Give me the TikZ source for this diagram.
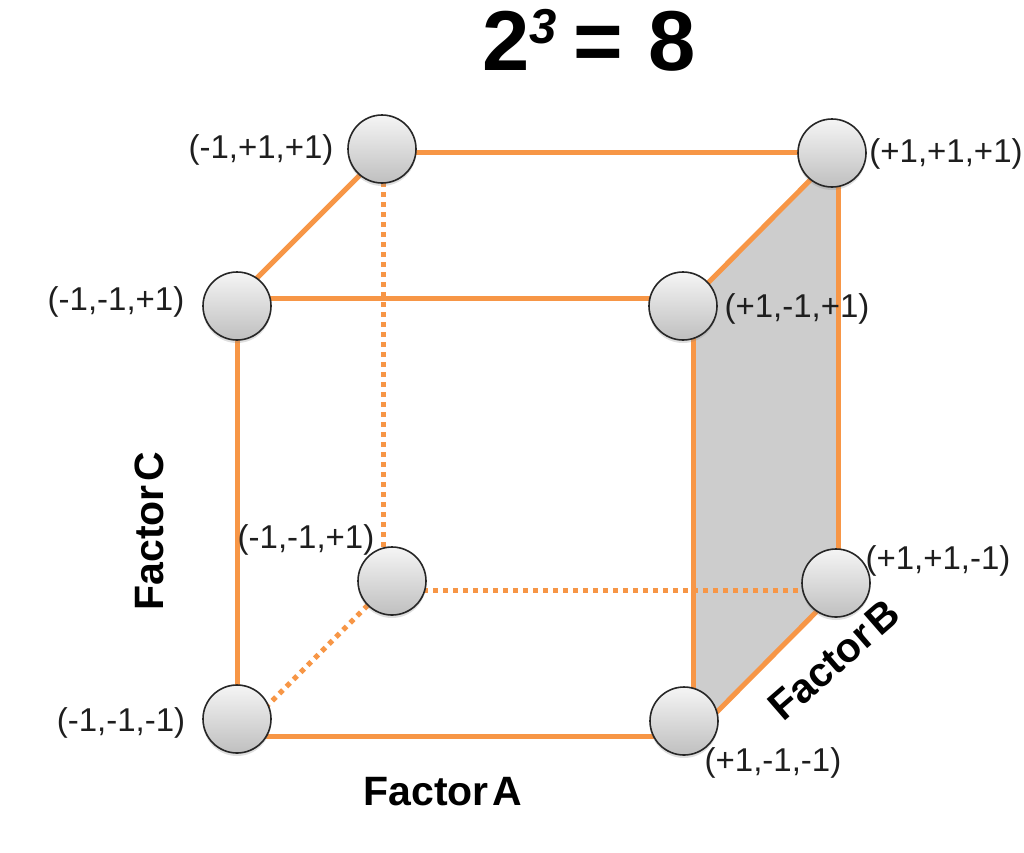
\documentclass[tikz,border=0pt]{standalone}
\usepackage{fontspec}
\setmainfont{Liberation Sans}
\usetikzlibrary{shadows}
\definecolor{edgeor}{RGB}{247,150,70}
\definecolor{facegray}{RGB}{205,205,205}
\definecolor{labtext}{RGB}{30,30,30}
\begin{document}
\begin{tikzpicture}[x=1pt,y=-1pt,
  edge/.style={draw=edgeor,line width=5pt},
  hidden/.style={draw=edgeor,line width=5pt,dash pattern=on 5pt off 5pt},
  corner/.style={circle,minimum size=68pt,inner sep=0pt,draw=black!85,line width=1.6pt,
    top color=black!4,bottom color=black!25,
    drop shadow={opacity=0.25,shadow xshift=0pt,shadow yshift=-3pt}},
  lab/.style={font=\fontsize{33}{36}\selectfont,text=labtext,inner sep=0pt},
  axis/.style={font=\bfseries\fontsize{41}{44}\selectfont,inner sep=0pt}]
\useasboundingbox (0,0) rectangle (1024,852);
% cube corners
\coordinate (fA) at (237,298);
\coordinate (fB) at (693,298);
\coordinate (fC) at (237,736);
\coordinate (fD) at (693,736);
\coordinate (bA) at (383,152);
\coordinate (bB) at (838,152);
\coordinate (bC) at (383,590);
\coordinate (bD) at (838,590);
% shaded face
\fill[facegray] (fB) -- (bB) -- (bD) -- (fD) -- cycle;
% edges
\draw[edge] (bA) -- (bB);
\draw[edge] (fA) -- (bA);
\draw[edge] (fA) -- (fB);
\draw[edge] (fB) -- (bB);
\draw[edge] (fA) -- (fC);
\draw[edge] (fC) -- (fD);
\draw[edge] (fB) -- (fD);
\draw[edge] (bB) -- (bD);
\draw[edge] (fD) -- (bD);
\draw[hidden] (bA) -- (bC);
\draw[hidden] (bC) -- (bD);
\draw[hidden] (fC) -- (bC);
% corner circles
\node[corner] (n1) at (382,149) {};
\node[corner] (n2) at (832,153) {};
\node[corner] (n3) at (237,306) {};
\node[corner] (n4) at (683,306) {};
\node[corner] (n5) at (392,581) {};
\node[corner] (n6) at (836,583) {};
\node[corner] (n7) at (237,719) {};
\node[corner] (n8) at (684,721) {};
% labels
\node[lab] (l1) at (261,150) {(-1,+1,+1)};
\node[lab] (l2) at (946,154) {(+1,+1,+1)};
\node[lab] (l3) at (116,302) {(-1,-1,+1)};
\node[lab] (l4) at (797,309) {(+1,-1,+1)};
\node[lab] (l5) at (306,540) {(-1,-1,+1)};
\node[lab] (l6) at (938,561) {(+1,+1,-1)};
\node[lab] (l7) at (121,723) {(-1,-1,-1)};
\node[lab] (l8) at (773,763) {(+1,-1,-1)};
% axis labels
\node[axis] (fa) at (443,792) {Factor\hspace{0.1em}A};
\node[axis,rotate=90] (fc) at (149,531) {Factor\hspace{0.1em}C};
\node[axis,rotate=41] (fb) at (834,660) {Factor\hspace{0.1em}B};
% title
\node[anchor=base,inner sep=0pt] (title) at (589,70) {\bfseries\fontsize{85}{90}\selectfont 2\raisebox{27pt}{\fontsize{49}{49}\selectfont\itshape 3}\hspace{0.2em}=\hspace{0.3em}8};
\end{tikzpicture}
\end{document}
